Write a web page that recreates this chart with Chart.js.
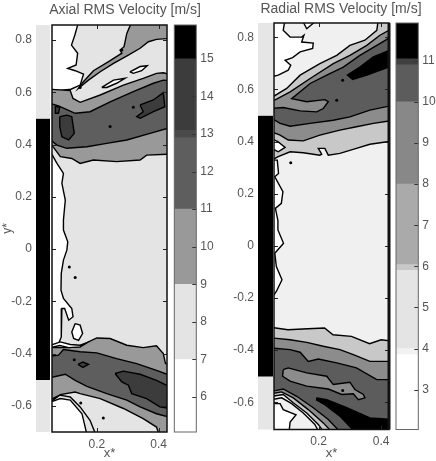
<!DOCTYPE html>
<html>
<head>
<meta charset="utf-8">
<title>RMS Velocity</title>
<script src="https://cdn.jsdelivr.net/npm/chart.js@4"></script>
<style>
  html, body { margin: 0; padding: 0; background: #fff; overflow: hidden; }
  #hoja { position: relative; width: 436px; height: 461px; overflow: hidden; }
  canvas { position: absolute; top: 0; filter: blur(0.4px); }
</style>
</head>
<body>
<div id="hoja">
  <canvas id="campo-axial" style="left:0" width="250" height="461"></canvas>
  <canvas id="pared-axial" style="left:0" width="60" height="461"></canvas>
  <canvas id="barra-axial" style="left:170px" width="66" height="461"></canvas>
  <canvas id="campo-radial" style="left:246px" width="190" height="461"></canvas>
  <canvas id="pared-radial" style="left:218px" width="60" height="461"></canvas>
  <canvas id="barra-radial" style="left:392px" width="44" height="461"></canvas>
</div>
<script>
// ============================================================
// DATOS
// ============================================================
const ticksY = [0.8, 0.6, 0.4, 0.2, 0, -0.2, -0.4, -0.6];
const ticksX = [0.2, 0.4];

// tramos de la pared: [desde, hasta] en y*
const tramosPared = [[0.5, 0.9], [-0.5, 0.5], [-0.72, -0.5]];
const coloresPared = ['#e6e6e6', '#000000', '#e6e6e6'];

const ticksBarraAxial = [15, 14, 13, 12, 11, 10, 9, 8, 7, 6];
const nivelesAxial = [5.07, 7, 9, 11, 12.9, 13.1, 15, 15.9];
const coloresBarraAxial = ['#ffffff', '#e4e4e4', '#999999', '#5e5e5e', '#4a4a4a', '#3c3c3c', '#000000'];

const ticksBarraRadial = [11, 10, 9, 8, 7, 6, 5, 4, 3];
const nivelesRadial = [2.03, 3.85, 4, 5.9, 6.04, 8, 10, 10.9, 11.05, 11.92];
const coloresBarraRadial = ['#ffffff', '#f2f2f2', '#e4e4e4', '#c8c8c8', '#aaaaaa', '#888888', '#5c5c5c', '#404040', '#000000'];

// contornos, en unidades de x*, y*
const axialFondo = [[0.05, 0.87], [0.44, 0.87], [0.44, -0.72], [0.05, -0.72]];
const axialBlancoArriba = [[0.05, 0.87], [0.138, 0.87], [0.138, 0.858], [0.129, 0.82], [0.118, 0.781], [0.138, 0.75], [0.133, 0.705], [0.106, 0.692], [0.13, 0.683], [0.157, 0.67], [0.146, 0.628], [0.116, 0.612], [0.082, 0.607], [0.05, 0.612]];
const axialBlancoBorde = [[0.05, 0.373], [0.071, 0.328], [0.092, 0.29], [0.087, 0.252], [0.098, 0.188], [0.092, 0.111], [0.092, 0.073], [0.106, 0.028], [0.103, -0.004], [0.092, -0.042], [0.085, -0.093], [0.084, -0.157], [0.092, -0.189], [0.119, -0.227], [0.123, -0.259], [0.109, -0.272], [0.096, -0.227], [0.087, -0.227], [0.085, -0.336], [0.076, -0.362], [0.05, -0.368]];
const axialBlancoGota = [[0.13, -0.285], [0.146, -0.291], [0.154, -0.323], [0.141, -0.349], [0.125, -0.342], [0.119, -0.317]];
const axialBlancoTira = [[0.05, -0.368], [0.082, -0.355], [0.114, -0.365], [0.146, -0.368], [0.162, -0.361], [0.146, -0.374], [0.109, -0.377], [0.08, -0.369], [0.05, -0.377]];
const axialBandaSup = [[0.313, 0.87], [0.297, 0.826], [0.288, 0.775], [0.275, 0.762], [0.281, 0.75], [0.238, 0.718], [0.189, 0.683], [0.152, 0.635], [0.141, 0.616], [0.173, 0.647], [0.211, 0.679], [0.254, 0.711], [0.302, 0.743], [0.34, 0.769], [0.367, 0.794], [0.393, 0.803], [0.44, 0.807], [0.44, 0.87]];
const axialMedioSup = [[0.05, 0.612], [0.114, 0.607], [0.123, 0.577], [0.146, 0.562], [0.211, 0.59], [0.286, 0.628], [0.35, 0.654], [0.393, 0.673], [0.415, 0.675], [0.44, 0.667], [0.44, 0.364], [0.361, 0.36], [0.34, 0.341], [0.264, 0.335], [0.189, 0.341], [0.146, 0.328], [0.119, 0.347], [0.082, 0.354], [0.05, 0.405]];
const axialOscuroSup = [[0.05, 0.558], [0.076, 0.548], [0.13, 0.52], [0.178, 0.526], [0.243, 0.564], [0.318, 0.603], [0.383, 0.635], [0.415, 0.647], [0.44, 0.645], [0.44, 0.466], [0.372, 0.443], [0.297, 0.418], [0.232, 0.405], [0.168, 0.392], [0.103, 0.386], [0.071, 0.398], [0.05, 0.418]];
const axialIslaA = [[0.08, 0.507], [0.103, 0.513], [0.119, 0.507], [0.127, 0.443], [0.109, 0.418], [0.087, 0.43], [0.08, 0.469]];
const axialIslaB = [[0.34, 0.552], [0.383, 0.571], [0.415, 0.599], [0.42, 0.545], [0.383, 0.526], [0.34, 0.501], [0.329, 0.507], [0.35, 0.526]];
const axialIslaC = [[0.066, 0.548], [0.08, 0.543], [0.076, 0.52], [0.066, 0.52]];
const axialBlancoCunaA = [[0.216, 0.619], [0.254, 0.647], [0.291, 0.654], [0.264, 0.635], [0.232, 0.619]];
const axialBlancoCunaB = [[0.307, 0.679], [0.34, 0.699], [0.363, 0.702], [0.345, 0.683], [0.318, 0.673]];
const axialMedioInf = [[0.05, -0.377], [0.103, -0.377], [0.146, -0.374], [0.173, -0.355], [0.2, -0.34], [0.243, -0.342], [0.297, -0.368], [0.35, -0.377], [0.393, -0.37], [0.415, -0.4], [0.422, -0.438], [0.44, -0.444], [0.44, -0.72], [0.404, -0.72], [0.393, -0.681], [0.35, -0.649], [0.286, -0.61], [0.211, -0.572], [0.146, -0.553], [0.13, -0.547], [0.082, -0.557], [0.05, -0.585]];
const axialOscuroInf = [[0.05, -0.41], [0.076, -0.406], [0.092, -0.384], [0.146, -0.393], [0.2, -0.397], [0.264, -0.419], [0.329, -0.438], [0.393, -0.464], [0.44, -0.485], [0.44, -0.645], [0.393, -0.63], [0.34, -0.604], [0.297, -0.578], [0.232, -0.553], [0.168, -0.525], [0.13, -0.502], [0.098, -0.479], [0.05, -0.492]];
const axialIslaInf = [[0.259, -0.476], [0.286, -0.467], [0.34, -0.479], [0.393, -0.502], [0.44, -0.53], [0.44, -0.61], [0.404, -0.604], [0.361, -0.572], [0.313, -0.553], [0.302, -0.521], [0.281, -0.508]];
const axialIslaChica = [[0.139, -0.441], [0.155, -0.432], [0.173, -0.441], [0.155, -0.453]];
const axialBlancoAbajo = [[0.05, -0.585], [0.082, -0.572], [0.114, -0.578], [0.152, -0.63], [0.17, -0.72], [0.05, -0.72]];
const axialLineaAbajo = [[0.05, -0.576], [0.08, -0.559], [0.114, -0.566], [0.146, -0.604], [0.178, -0.655], [0.2, -0.72]];
const axialPuntos = [[0.243, 0.469], [0.318, 0.543], [0.281, 0.762], [0.146, 0.619], [0.13, -0.109], [0.111, -0.068], [0.127, -0.423], [0.148, -0.589], [0.221, -0.646]];

const radialFondo = [[0.05, 0.87], [0.44, 0.87], [0.44, -0.72], [0.05, -0.72]];
const radialBlancoArriba = [[0.05, 0.87], [0.093, 0.87], [0.087, 0.827], [0.109, 0.801], [0.146, 0.801], [0.153, 0.808], [0.146, 0.782], [0.183, 0.778], [0.181, 0.757], [0.141, 0.744], [0.117, 0.722], [0.093, 0.712], [0.111, 0.693], [0.103, 0.674], [0.071, 0.655], [0.05, 0.648]];
const radialBlancoCima = [[0.146, 0.87], [0.162, 0.833], [0.199, 0.87]];
const radialBlancoBorde = [[0.05, 0.329], [0.068, 0.329], [0.072, 0.278], [0.06, 0.265], [0.086, 0.208], [0.081, 0.163], [0.062, 0.144], [0.07, 0.097], [0.07, 0.061], [0.088, 0.01], [0.06, -0.028], [0.065, -0.079], [0.083, -0.13], [0.065, -0.175], [0.05, -0.2]];
const radialClaroSup = [[0.391, 0.87], [0.386, 0.827], [0.348, 0.789], [0.3, 0.769], [0.258, 0.731], [0.204, 0.699], [0.141, 0.655], [0.098, 0.604], [0.05, 0.569], [0.05, 0.329], [0.071, 0.342], [0.109, 0.361], [0.151, 0.357], [0.204, 0.348], [0.21, 0.352], [0.199, 0.374], [0.22, 0.374], [0.231, 0.348], [0.268, 0.355], [0.321, 0.374], [0.364, 0.39], [0.44, 0.403], [0.44, 0.87]];
const radialBlancoMancha = [[0.05, 0.412], [0.071, 0.399], [0.093, 0.378], [0.071, 0.361], [0.05, 0.374]];
const radialMedioSup = [[0.44, 0.837], [0.396, 0.808], [0.354, 0.769], [0.3, 0.731], [0.247, 0.699], [0.173, 0.642], [0.109, 0.591], [0.05, 0.553], [0.05, 0.438], [0.077, 0.425], [0.103, 0.406], [0.151, 0.403], [0.204, 0.425], [0.268, 0.444], [0.321, 0.457], [0.375, 0.47], [0.44, 0.482]];
const radialOscuroSup = [[0.44, 0.808], [0.386, 0.769], [0.332, 0.731], [0.279, 0.686], [0.226, 0.655], [0.173, 0.623], [0.114, 0.565], [0.162, 0.553], [0.22, 0.561], [0.231, 0.553], [0.215, 0.527], [0.194, 0.514], [0.141, 0.518], [0.087, 0.531], [0.05, 0.527], [0.05, 0.489], [0.077, 0.47], [0.109, 0.459], [0.173, 0.47], [0.247, 0.482], [0.3, 0.495], [0.364, 0.521], [0.44, 0.54]];
const radialNegroSup = [[0.44, 0.757], [0.375, 0.725], [0.332, 0.686], [0.292, 0.655], [0.309, 0.638], [0.354, 0.655], [0.44, 0.693]];
const radialClaroInf = [[0.05, -0.313], [0.102, -0.322], [0.166, -0.318], [0.219, -0.315], [0.246, -0.341], [0.305, -0.347], [0.363, -0.375], [0.4, -0.36], [0.44, -0.366], [0.44, -0.72], [0.22, -0.72], [0.199, -0.685], [0.162, -0.641], [0.119, -0.602], [0.087, -0.57], [0.05, -0.577]];
const radialMedioInf = [[0.05, -0.353], [0.109, -0.36], [0.162, -0.37], [0.215, -0.385], [0.268, -0.398], [0.311, -0.417], [0.364, -0.443], [0.44, -0.443], [0.44, -0.72], [0.247, -0.72], [0.215, -0.679], [0.167, -0.628], [0.119, -0.583], [0.082, -0.56], [0.05, -0.567]];
const radialOscuroInf = [[0.05, -0.392], [0.109, -0.398], [0.141, -0.408], [0.167, -0.443], [0.199, -0.434], [0.258, -0.449], [0.321, -0.468], [0.386, -0.513], [0.44, -0.513], [0.44, -0.72], [0.274, -0.72], [0.231, -0.666], [0.183, -0.621], [0.13, -0.577], [0.087, -0.549], [0.05, -0.558]];
const radialIslaInf = [[0.087, -0.475], [0.103, -0.468], [0.162, -0.487], [0.226, -0.5], [0.247, -0.532], [0.3, -0.523], [0.316, -0.551], [0.343, -0.57], [0.348, -0.583], [0.327, -0.59], [0.311, -0.567], [0.274, -0.57], [0.231, -0.549], [0.162, -0.538], [0.109, -0.519], [0.085, -0.5]];
const radialNegroInf = [[0.194, -0.583], [0.226, -0.59], [0.29, -0.621], [0.364, -0.66], [0.44, -0.666], [0.44, -0.72], [0.321, -0.72], [0.268, -0.653], [0.22, -0.609], [0.194, -0.592]];
const radialBlancoAbajo = [[0.05, -0.605], [0.077, -0.605], [0.087, -0.628], [0.128, -0.648], [0.109, -0.676], [0.105, -0.72], [0.05, -0.72]];
const radialLineaAbajo = [[0.05, -0.59], [0.082, -0.583], [0.114, -0.605], [0.151, -0.641], [0.188, -0.685], [0.204, -0.72]];
const radialPuntos = [[0.277, 0.635], [0.258, 0.559], [0.111, 0.319], [0.277, -0.555]];

// ============================================================
// CAPAS: de abajo hacia arriba, color null = solo línea
// ============================================================
const capasAxial = [
  [axialFondo, '#e4e4e4'],
  [axialBlancoArriba, '#ffffff'],
  [axialBlancoBorde, '#ffffff'],
  [axialBlancoGota, '#ffffff'],
  [axialBandaSup, '#999999'],
  [axialMedioSup, '#999999'],
  [axialOscuroSup, '#5e5e5e'],
  [axialIslaA, '#3c3c3c'],
  [axialIslaB, '#3c3c3c'],
  [axialIslaC, '#3c3c3c'],
  [axialBlancoCunaA, '#ffffff'],
  [axialBlancoCunaB, '#ffffff'],
  [axialMedioInf, '#999999'],
  [axialBlancoTira, '#ffffff'],
  [axialOscuroInf, '#5e5e5e'],
  [axialIslaInf, '#3c3c3c'],
  [axialIslaChica, '#3c3c3c'],
  [axialBlancoAbajo, '#ffffff'],
  [axialLineaAbajo, null],
];

const capasRadial = [
  [radialFondo, '#f0f0f0'],
  [radialBlancoArriba, '#ffffff'],
  [radialBlancoCima, '#ffffff'],
  [radialBlancoBorde, '#ffffff'],
  [radialClaroSup, '#c8c8c8'],
  [radialBlancoMancha, '#ffffff'],
  [radialMedioSup, '#8c8c8c'],
  [radialOscuroSup, '#5c5c5c'],
  [radialNegroSup, '#000000'],
  [radialClaroInf, '#c8c8c8'],
  [radialMedioInf, '#8c8c8c'],
  [radialOscuroInf, '#5c5c5c'],
  [radialIslaInf, '#8c8c8c'],
  [radialNegroInf, '#000000'],
  [radialBlancoAbajo, '#ffffff'],
  [radialLineaAbajo, null],
];

const COLOR_TEXTO = '#555555';
const FUENTE = 'Arial, Helvetica, "Liberation Sans"';

// marcas hacia adentro y marco, Chart.js no las dibuja así
function marcasInternas(cfg) {
  return {
    id: 'marcasInternas',
    afterDatasetsDraw(chart) {
      const { ctx, chartArea: a, scales } = chart;
      ctx.save();
      ctx.strokeStyle = cfg.colorMarca;
      ctx.lineWidth = 1;
      (cfg.ticksY || []).forEach(v => {
        const y = Math.round(scales.y.getPixelForValue(v)) + 0.5;
        ctx.beginPath();
        if (cfg.ambosLados) {
          ctx.moveTo(a.left, y);
          ctx.lineTo(a.left + 4, y);
        }
        ctx.moveTo(a.right, y);
        ctx.lineTo(a.right - 4, y);
        ctx.stroke();
      });
      (cfg.ticksX || []).forEach(v => {
        const x = Math.round(scales.x.getPixelForValue(v)) + 0.5;
        ctx.beginPath();
        ctx.moveTo(x, a.bottom);
        ctx.lineTo(x, a.bottom - 4);
        ctx.moveTo(x, a.top);
        ctx.lineTo(x, a.top + 4);
        ctx.stroke();
      });
      ctx.strokeStyle = cfg.colorMarco;
      ctx.lineWidth = cfg.anchoMarco;
      ctx.strokeRect(a.left, a.top, a.right - a.left, a.bottom - a.top);
      if (cfg.anchoDerecho) {
        ctx.lineWidth = cfg.anchoDerecho;
        ctx.beginPath();
        ctx.moveTo(a.right, a.top);
        ctx.lineTo(a.right, a.bottom);
        ctx.stroke();
      }
      ctx.restore();
    },
  };
}

function formatoTick(v) {
  return String(Number(v.toFixed(1)));
}

// eje y sin marcas, solo reserva el ancho a cada lado del campo:
// el título del Chart se achica si se usa layout.padding
function ejeVacio(posicion, ancho, cfg) {
  return {
    type: 'linear',
    position: posicion,
    min: cfg.yMin,
    max: cfg.yMax,
    afterFit: s => { s.width = ancho; },
    grid: { display: false, drawTicks: false },
    border: { display: false },
    ticks: { display: false },
  };
}

// ============================================================
// CAMPO DE CONTORNOS
// ============================================================
function crearCampo(id, cfg) {
  const datasets = [{
    data: cfg.puntos,
    showLine: false,
    pointRadius: 1.5,
    pointBackgroundColor: '#000',
    pointBorderWidth: 0,
  }];
  capas(cfg.capas).forEach(d => datasets.push(d));

  new Chart(document.getElementById(id), {
    type: 'scatter',
    data: { datasets },
    options: {
      responsive: false,
      animation: false,
      events: [],
      layout: { autoPadding: false, padding: 0 },
      plugins: {
        legend: { display: false },
        tooltip: { enabled: false },
        title: {
          display: true,
          text: cfg.titulo,
          color: COLOR_TEXTO,
          font: { family: FUENTE, size: 14, weight: 'normal' },
          padding: { top: cfg.tituloArriba, bottom: cfg.arriba - cfg.tituloArriba - 16.8 },
        },
      },
      scales: {
        x: {
          type: 'linear',
          min: cfg.xMin,
          max: cfg.xMax,
          afterBuildTicks: s => { s.ticks = ticksX.map(value => ({ value })); },
          afterFit: s => { s.height = cfg.abajo; },
          grid: { display: false, drawTicks: false },
          border: { display: false },
          ticks: {
            color: COLOR_TEXTO,
            font: { family: FUENTE, size: 12 },
            padding: 5,
            maxRotation: 0,
            callback: formatoTick,
          },
          title: {
            display: true,
            text: 'x*',
            color: COLOR_TEXTO,
            font: { family: FUENTE, size: 13 },
            padding: { top: 0, bottom: 0 },
          },
        },
        y: ejeVacio('left', cfg.izq, cfg),
        yDerecha: ejeVacio('right', cfg.der, cfg),
      },
    },
    plugins: [marcasInternas({
      ticksX,
      ticksY,
      ambosLados: true,
      colorMarca: '#222222',
      colorMarco: '#111111',
      anchoMarco: 1.5,
      anchoDerecho: cfg.anchoDerecho,
    })],
  });
}

// el primer dataset queda encima, por eso se invierte
function capas(lista) {
  return lista.slice().reverse().map(([puntos, color]) => ({
    data: color ? puntos.concat([puntos[0]]) : puntos,
    showLine: true,
    pointRadius: 0,
    borderColor: '#000000',
    borderWidth: 1.4,
    backgroundColor: color || 'transparent',
    fill: color ? 'shape' : false,
  }));
}

// ============================================================
// BARRAS: pared a la izquierda y escala de colores
// ============================================================
function crearBarras(id, cfg) {
  new Chart(document.getElementById(id), {
    type: 'bar',
    data: {
      labels: ['v'],
      datasets: cfg.tramos.map((tramo, i) => ({
        data: [tramo],
        backgroundColor: cfg.colores[i],
        borderWidth: 0,
        grouped: false,
        barPercentage: 1,
        categoryPercentage: 1,
      })),
    },
    options: {
      responsive: false,
      animation: false,
      events: [],
      layout: { autoPadding: false, padding: { left: cfg.izq, right: cfg.der, top: cfg.arriba, bottom: cfg.abajo } },
      plugins: { legend: { display: false }, tooltip: { enabled: false } },
      scales: {
        x: { display: false },
        y: {
          type: 'linear',
          position: cfg.posicion,
          min: cfg.yMin,
          max: cfg.yMax,
          afterBuildTicks: s => { s.ticks = cfg.ticks.map(value => ({ value })); },
          afterFit: s => { s.width = cfg.anchoEje; },
          grid: { display: false, drawTicks: false },
          border: { display: false },
          ticks: {
            color: COLOR_TEXTO,
            font: { family: FUENTE, size: 12 },
            padding: 4,
            autoSkip: false,
            callback: formatoTick,
          },
          title: {
            display: !!cfg.tituloY,
            text: cfg.tituloY,
            color: COLOR_TEXTO,
            font: { family: FUENTE, size: 12 },
            padding: { top: 0, bottom: 0 },
          },
        },
      },
    },
    plugins: cfg.marco ? [marcasInternas({
      ticksY: cfg.ticks,
      ambosLados: false,
      colorMarca: '#333333',
      colorMarco: '#666666',
      anchoMarco: 1,
    })] : [],
  });
}

function tramosDeNiveles(niveles) {
  return niveles.slice(0, -1).map((v, i) => [v, niveles[i + 1]]);
}

crearCampo('campo-axial', {
  capas: capasAxial,
  puntos: axialPuntos,
  titulo: 'Axial RMS Velocity [m/s]',
  izq: 52,
  der: 83,
  arriba: 25,
  abajo: 29,
  tituloArriba: 2,
  xMin: 0.055,
  xMax: 0.427,
  yMin: -0.7,
  yMax: 0.858,
});
crearCampo('campo-radial', {
  capas: capasRadial,
  puntos: radialPuntos,
  titulo: 'Radial RMS Velocity [m/s]',
  izq: 28,
  der: 47,
  arriba: 23,
  abajo: 31.5,
  tituloArriba: 0.5,
  anchoDerecho: 3,
  xMin: 0.0575,
  xMax: 0.425,
  yMin: -0.7044,
  yMax: 0.855,
});

crearBarras('pared-axial', {
  tramos: tramosPared, colores: coloresPared, ticks: ticksY, posicion: 'left',
  izq: 0, der: 10, arriba: 25, abajo: 29, anchoEje: 36, yMin: -0.7, yMax: 0.858, tituloY: 'y*',
});
crearBarras('pared-radial', {
  tramos: tramosPared, colores: coloresPared, ticks: ticksY, posicion: 'left',
  izq: 0, der: 5, arriba: 23, abajo: 31.5, anchoEje: 40, yMin: -0.7044, yMax: 0.855,
});
crearBarras('barra-axial', {
  tramos: tramosDeNiveles(nivelesAxial), colores: coloresBarraAxial, ticks: ticksBarraAxial, posicion: 'right',
  izq: 4.3, der: 0, arriba: 25, abajo: 29, anchoEje: 39.7, yMin: 5.07, yMax: 15.9, marco: true,
});
crearBarras('barra-radial', {
  tramos: tramosDeNiveles(nivelesRadial), colores: coloresBarraRadial, ticks: ticksBarraRadial, posicion: 'right',
  izq: 4, der: 0, arriba: 23, abajo: 31.5, anchoEje: 17.7, yMin: 2.03, yMax: 11.92, marco: true,
});
</script>
</body>
</html>
